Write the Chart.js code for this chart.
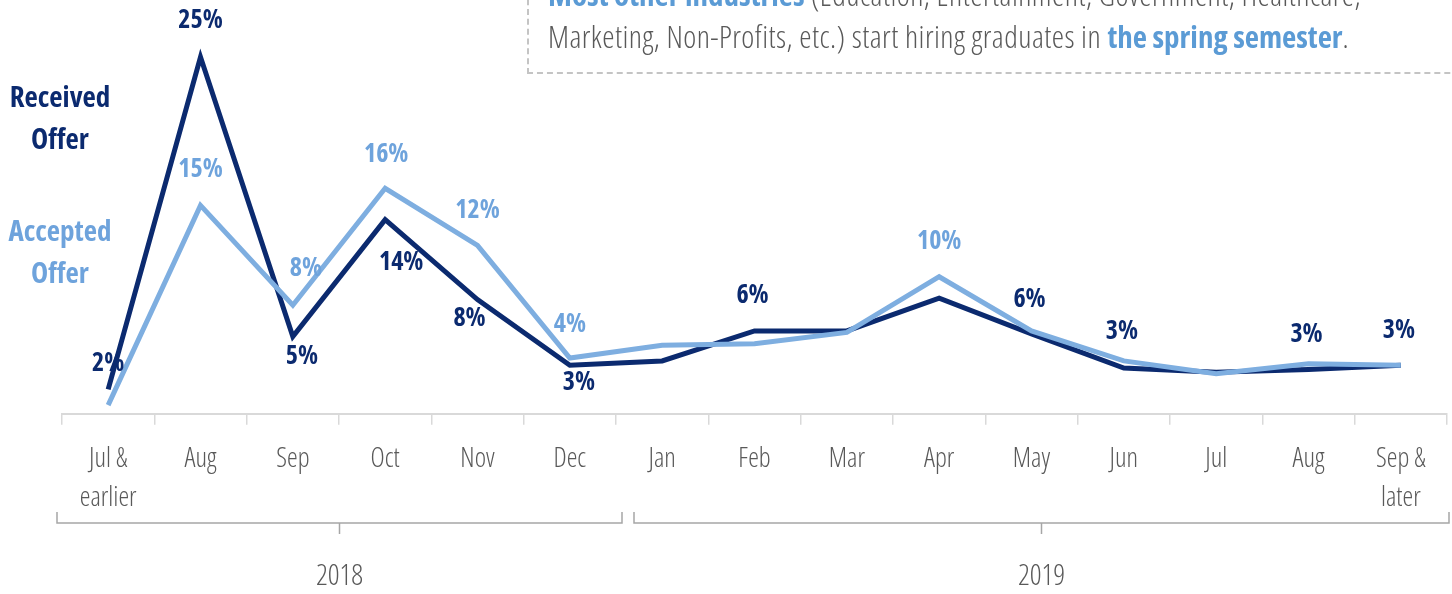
<!DOCTYPE html>
<html>
<head>
<meta charset="utf-8">
<script src="https://cdn.jsdelivr.net/npm/chart.js@4.4.1/dist/chart.umd.min.js"></script>
<style>
    html, body { margin: 0; padding: 0; background: #fff; overflow: hidden; }
    #wrap { position: relative; width: 1452px; height: 594px; }
    #offersChart { position: absolute; left: 0; top: 0; }
    .note {
        position: absolute; left: 527px; top: -50px; width: 1000px;
        border: 2px dashed #c4c4c4; padding: 21px 0 15px 19px;
        font-family: 'Open Sans', sans-serif; font-stretch: 75%; font-weight: 300;
        font-size: 31px; letter-spacing: 0.45px; line-height: 42px; color: #595959; white-space: nowrap;
    }
    .note b { color: #5b9bd5; font-weight: 700; letter-spacing: 0; }
    .legend-label {
        position: absolute; width: 120px; text-align: center;
        font-family: 'Open Sans', sans-serif; font-stretch: 75%; font-weight: 700;
        font-size: 29px; line-height: 42px;
    }
</style>
</head>
<body>
<div id="wrap">
    <canvas id="offersChart" width="1452" height="594"></canvas>
    <div class="note">
        <b>Most other industries</b> (Education, Entertainment, Government, Healthcare,<br>
        Marketing, Non-Profits, etc.) start hiring graduates in <b>the spring semester</b>.
    </div>
    <div class="legend-label" style="left:0; top:75px; color:#0b2a6f;">Received<br>Offer</div>
    <div class="legend-label" style="left:0; top:209px; color:#6ea3dc;">Accepted<br>Offer</div>
</div>

<script>
// months, with the two years they belong to
const months = [['Jul &', 'earlier'], 'Aug', 'Sep', 'Oct', 'Nov', 'Dec',
    'Jan', 'Feb', 'Mar', 'Apr', 'May', 'Jun', 'Jul', 'Aug', ['Sep &', 'later']];
const years = ['2018', '2019'];
const yearFirstMonth = [0, 6];
const yearLastMonth = [5, 14];

// % of graduates
const receivedOffer = [1.7, 25.0, 5.4, 13.6, 8.0, 3.4, 3.7, 5.8, 5.8, 8.1, 5.6, 3.2, 2.9, 3.1, 3.4];
const acceptedOffer = [0.6, 14.6, 7.6, 15.8, 11.8, 3.9, 4.8, 4.9, 5.7, 9.6, 5.8, 3.7, 2.8, 3.5, 3.4];

const darkBlue = '#0b2a6f';
const lightBlue = '#7eaee0';
const lightLabel = '#6ea3dc';

//---------------------------------
//Start value labels (which points get one, and where it sits)
const receivedLabelSpots = {
    0: [0, -26], 1: [0, -36], 2: [9, 20], 3: [16, 43], 4: [-8, 19], 5: [9, 17],
    7: [-2, -35], 10: [-2, -34], 11: [-2, -36], 13: [-2, -35], 14: [-2, -35]
};
const acceptedLabelSpots = {
    1: [0, -36], 2: [13, -37], 3: [1, -34], 4: [0, -35], 5: [0, -33], 9: [0, -35]
};

const valueLabels = {
    id: 'valueLabels',
    afterDatasetsDraw(chart) {
        const ctx = chart.ctx;
        ctx.save();
        ctx.font = "700 condensed 26px 'Open Sans'";
        ctx.textAlign = 'center';
        ctx.textBaseline = 'middle';
        chart.data.datasets.forEach((ds, i) => {
            const meta = chart.getDatasetMeta(i);
            const spots = ds.labelSpots;
            ctx.fillStyle = ds.labelColor;
            Object.keys(spots).forEach((k) => {
                const pt = meta.data[k];
                const off = spots[k];
                ctx.fillText(Math.round(ds.data[k]) + '%', pt.x + off[0], pt.y + off[1]);
            });
        });
        ctx.restore();
    }
};
//End value labels
//---------------------------------

//---------------------------------
//Start year brackets under the month axis
const yearBrackets = {
    id: 'yearBrackets',
    afterDraw(chart) {
        const x = chart.scales.x;
        const ctx = chart.ctx;
        const half = (x.getPixelForValue(1) - x.getPixelForValue(0)) / 2;
        const insetL = [-5, 18];
        const insetR = [6, 2];
        ctx.save();
        ctx.strokeStyle = '#a6a6a6';
        ctx.lineWidth = 1.5;
        ctx.fillStyle = '#595959';
        ctx.font = "300 semi-condensed 29px 'Open Sans'";
        ctx.textAlign = 'center';
        ctx.textBaseline = 'middle';
        years.forEach((yr, i) => {
            const x0 = x.getPixelForValue(yearFirstMonth[i]) - half + insetL[i];
            const x1 = x.getPixelForValue(yearLastMonth[i]) + half + insetR[i];
            const mid = (x0 + x1) / 2;
            ctx.beginPath();
            ctx.moveTo(x0, 512);
            ctx.lineTo(x0, 523);
            ctx.lineTo(x1, 523);
            ctx.lineTo(x1, 512);
            ctx.moveTo(mid, 523);
            ctx.lineTo(mid, 534);
            ctx.stroke();
            ctx.fillText(yr, mid, 577);
        });
        ctx.restore();
    }
};
//End year brackets
//---------------------------------

const ctx = document.getElementById('offersChart');

new Chart(ctx, {
    type: 'line',
    data: {
        labels: months,
        datasets: [{
            label: 'Received Offer',
            data: receivedOffer,
            borderColor: darkBlue,
            labelColor: darkBlue,
            labelSpots: receivedLabelSpots,
            order: 2
        }, {
            label: 'Accepted Offer',
            data: acceptedOffer,
            borderColor: lightBlue,
            labelColor: lightLabel,
            labelSpots: acceptedLabelSpots,
            order: 1
        }]
    },
    options: {
        responsive: false,
        animation: false,
        clip: false,
        events: [],
        layout: { padding: { top: 57, left: 62, right: 5, bottom: 61 } },
        elements: {
            line: { borderWidth: 5, tension: 0, borderJoinStyle: 'miter', fill: false },
            point: { radius: 0, hoverRadius: 0 }
        },
        plugins: {
            legend: { display: false },
            tooltip: { enabled: false }
        },
        scales: {
            x: {
                offset: true,
                grid: {
                    offset: true,
                    drawOnChartArea: false,
                    drawTicks: true,
                    tickLength: 11,
                    color: '#d9d9d9',
                    lineWidth: 1.5
                },
                border: { display: true, color: '#d9d9d9', width: 2 },
                ticks: {
                    autoSkip: false,
                    maxRotation: 0,
                    padding: 15,
                    color: '#595959',
                    font: { family: "'Open Sans'", weight: '300 semi-condensed', size: 27, lineHeight: 1.45 }
                }
            },
            y: {
                display: false,
                min: 0,
                max: 25
            }
        }
    },
    plugins: [valueLabels, yearBrackets]
});
</script>
</body>
</html>
